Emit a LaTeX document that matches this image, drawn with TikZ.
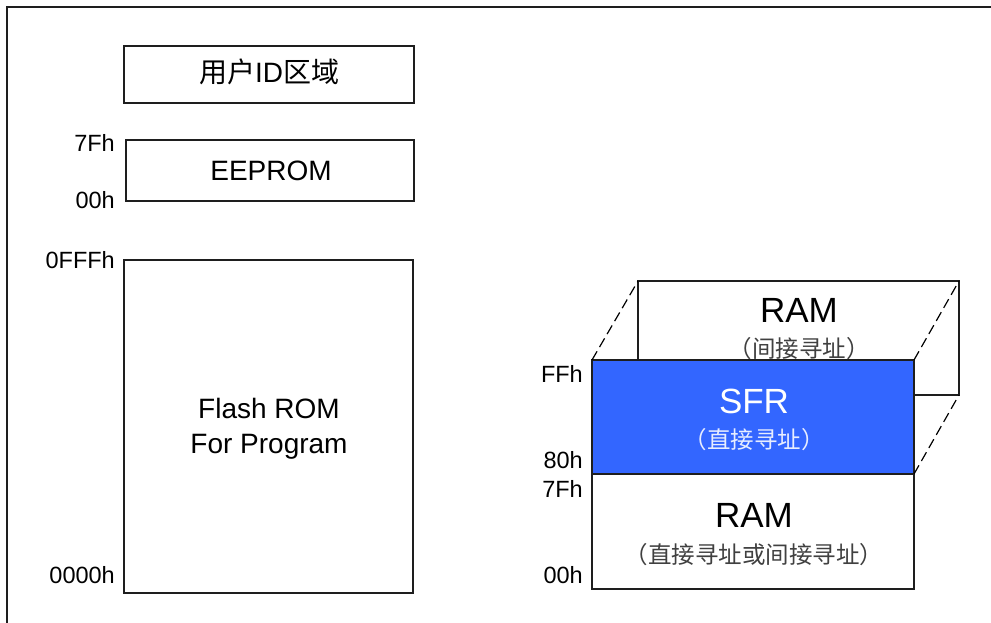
\documentclass[tikz,border=0pt]{standalone}
\usepackage{fontspec}
\setmainfont{Liberation Sans}
\newfontfamily\cjk{Noto Sans CJK SC}
\definecolor{sfrblue}{RGB}{51,102,255}
\definecolor{linegray}{RGB}{30,30,30}
\begin{document}
\begin{tikzpicture}[x=1pt,y=-1pt,
  membox/.style={draw=linegray,line width=1.2pt,fill=white,inner sep=0pt,outer sep=0pt,anchor=north west},
  addr/.style={font=\fontsize{23.5}{26}\selectfont,anchor=base east,inner sep=0pt},
  bigtxt/.style={font=\fontsize{28}{32}\selectfont,anchor=base,inner sep=0pt},
  hugetxt/.style={font=\fontsize{35}{40}\selectfont,anchor=base,inner sep=0pt},
  cjktxt/.style={font=\fontsize{23.5}{26}\selectfont\cjk,anchor=base,inner sep=0pt,text=black!75},
  persp/.style={draw=black,line width=1.2pt,dash pattern=on 10pt off 5pt}]
\useasboundingbox (0,0) rectangle (991,623);
% outer frame (only top and left visible)
\coordinate (fbl) at (7,640);
\coordinate (ftl) at (7,7);
\coordinate (ftr) at (1000,7);
\draw[line width=1.5pt,draw=linegray] (fbl) -- (ftl) -- (ftr);
% left column
\node[membox,minimum width=290pt,minimum height=57pt] (uid) at (124,46) {};
\node[bigtxt] (uidt) at (269,83) {{\cjk 用户}ID{\cjk 区域}};
\node[membox,minimum width=288pt,minimum height=61pt] (eeprom) at (126,140) {};
\node[bigtxt] (eet) at (271,180) {EEPROM};
\node[addr] (e7f) at (115,152) {7Fh};
\node[addr] (e00) at (115,208) {00h};
\node[membox,minimum width=289pt,minimum height=333pt] (flash) at (124,260) {};
\node[bigtxt] (fl1) at (269,418) {Flash ROM};
\node[bigtxt] (fl2) at (269,453) {For Program};
\node[addr] (fff) at (115,268) {0FFFh};
\node[addr] (f000) at (115,583) {0000h};
% right column
\node[membox,minimum width=321pt,minimum height=114pt] (ramback) at (638,281) {};
\node[hugetxt] (rbt) at (799,322) {RAM};
\node[cjktxt] (rbc) at (799,357) {（间接寻址）};
\node[membox,fill=sfrblue,minimum width=322pt,minimum height=114pt] (sfr) at (592,360) {};
\node[hugetxt,text=white] (sfrt) at (754,413) {SFR};
\node[cjktxt,text=white!88!sfrblue] (sfrc) at (754,448) {（直接寻址）};
\node[membox,minimum width=322pt,minimum height=115pt] (ramlow) at (592,474) {};
\node[hugetxt] (rlt) at (754,527) {RAM};
\node[cjktxt] (rlc) at (754,563) {（直接寻址或间接寻址）};
\draw[persp] (sfr.north west) -- (ramback.north west);
\draw[persp] (sfr.north east) -- (ramback.north east);
\draw[persp] (sfr.south east) -- (ramback.south east);
\node[addr] (rff) at (583,382) {FFh};
\node[addr] (r80) at (583,468) {80h};
\node[addr] (r7f) at (583,497) {7Fh};
\node[addr] (r00) at (583,583) {00h};
\end{tikzpicture}
\end{document}
